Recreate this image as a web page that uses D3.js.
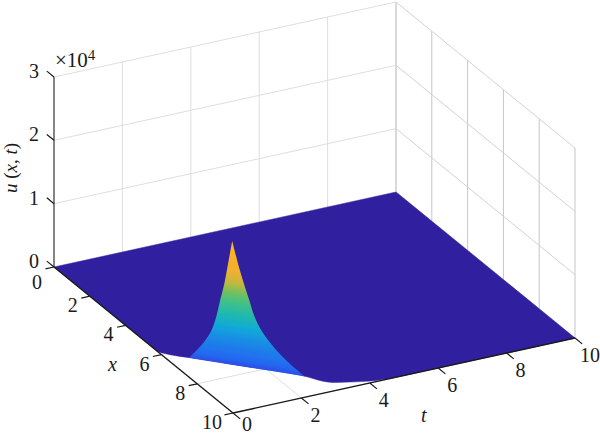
<!DOCTYPE html>
<html>
<head>
<meta charset="utf-8">
<script src="https://cdn.jsdelivr.net/npm/d3@7"></script>
<style>
  html, body { margin: 0; padding: 0; background: #fff; }
  text { font-family: "Liberation Serif", serif; fill: #1a1a1a; }
</style>
</head>
<body>
<svg id="chart" width="600" height="435"></svg>
<script>
const xTicks = [0, 2, 4, 6, 8, 10];
const tTicks = [0, 2, 4, 6, 8, 10];
const uTicks = [0, 1, 2, 3];

// front edge of the surface, the part of the floor in front of it is empty
const edgeT = [0, 0.19, 0.6, 1.5, 2.62, 3.05, 3.57, 4.06, 4.6];
const edgeX = [5.8, 6.1, 6.54, 7.53, 8.76, 9.44, 9.71, 9.9, 10];

// spike outline, t on the front edge and u in thousands
const spikeLeftT = [0.557, 0.686, 0.835, 0.965, 1.058, 1.132, 1.206, 1.262, 1.354];
const spikeLeftU = [0, 1.25, 2.9, 4.8, 7.12, 9.9, 12.5, 15.1, 19.5];
const spikeRightT = [1.354, 1.484, 1.577, 1.67, 1.763, 1.911, 2.134, 2.486, 2.69];
const spikeRightU = [19.5, 15.4, 12.9, 10.6, 8.2, 5.9, 3.7, 1.15, 0];

const colorStops = ['#2a50e8', '#2468f0', '#1a8ae6', '#10a8d8', '#1fb8b0', '#3fc08a', '#70c060', '#c0b840', '#f0b030', '#fdb020', '#f8c030'];
const colorOffsets = [0, 0.05, 0.2, 0.3, 0.4, 0.5, 0.58, 0.66, 0.75, 0.9, 1];
const surfaceColor = '#30209f';

const svg = d3.select('#chart');

const xPx = d3.scaleLinear().domain([0, 10]).range([0, 179]);
const xPy = d3.scaleLinear().domain([0, 10]).range([0, 146]);
const tPx = d3.scaleLinear().domain([0, 10]).range([0, 342]);
const tPy = d3.scaleLinear().domain([0, 10]).range([0, -75]);
const uPy = d3.scaleLinear().domain([0, 30]).range([0, -190]);
const edgeAt = d3.scaleLinear().domain(edgeT).range(edgeX);

const originX = 54, originY = 267;
const project = (x, t, u = 0) => [originX + xPx(x) + tPx(t), originY + xPy(x) + tPy(t) + uPy(u)];

const line = d3.line();
const smooth = d3.line().curve(d3.curveCatmullRom.alpha(0.5));

// grid
const grid = svg.append('g').attr('fill', 'none').attr('stroke-width', 1);
function gridLine(points, color) {
  grid.append('path').attr('d', line(points.map(p => project(...p)))).attr('stroke', color);
}
const wallColor = '#dedede';
const sideColor = '#c6c6c6';
tTicks.slice(1).forEach(t => {
  gridLine([[0, t, 0], [0, t, 30]], t === 10 ? '#b4b4b4' : wallColor);
  gridLine([[0, t, 0], [10, t, 0]], wallColor);
});
xTicks.slice(1).forEach(x => {
  gridLine([[x, 10, 0], [x, 10, 30]], sideColor);
  gridLine([[x, 0, 0], [x, 10, 0]], wallColor);
});
uTicks.slice(1).forEach(u => {
  gridLine([[0, 0, u * 10], [0, 10, u * 10]], wallColor);
  gridLine([[0, 10, u * 10], [10, 10, u * 10]], '#d2d2d2');
});

// flat surface
const edgePts = edgeT.map((t, i) => project(edgeX[i], t));
svg.append('path')
  .attr('d', line([project(0, 0), edgePts[0]]) + smooth(edgePts).replace('M', 'L')
    + line([project(10, 10), project(0, 10)]).replace('M', 'L') + 'Z')
  .attr('fill', surfaceColor)
  .attr('stroke', surfaceColor)
  .attr('stroke-width', 0.5);

// spike, colour runs along the height and leans with the front edge
const leftPts = spikeLeftT.map((t, i) => project(edgeAt(t), t, spikeLeftU[i]));
const rightPts = spikeRightT.map((t, i) => project(edgeAt(t), t, spikeRightU[i]));
const defs = svg.append('defs');
const base = project(edgeAt(1.354), 1.354);
const tip = leftPts[leftPts.length - 1];
const edgeA = project(edgeAt(0.6), 0.6);
const edgeB = project(edgeAt(2.62), 2.62);
const dx = edgeB[0] - edgeA[0], dy = edgeB[1] - edgeA[1];
const nLen = Math.hypot(dx, dy);
const nx = dy / nLen, ny = -dx / nLen;
const reach = (tip[0] - base[0]) * nx + (tip[1] - base[1]) * ny;
const grad = defs.append('linearGradient')
  .attr('id', 'spikeFill')
  .attr('gradientUnits', 'userSpaceOnUse')
  .attr('x1', base[0]).attr('y1', base[1])
  .attr('x2', base[0] + nx * reach).attr('y2', base[1] + ny * reach);
grad.selectAll('stop').data(colorStops).join('stop')
  .attr('offset', (d, i) => colorOffsets[i])
  .attr('stop-color', d => d);
defs.append('filter').attr('id', 'soft')
  .append('feGaussianBlur').attr('stdDeviation', 0.5);

svg.append('path')
  .attr('d', smooth(leftPts) + smooth(rightPts).replace('M', 'L') + 'Z')
  .attr('fill', 'url(#spikeFill)')
  .attr('filter', 'url(#soft)');

// axes
const axes = svg.append('g').attr('fill', 'none').attr('stroke', '#1a1a1a');
axes.append('path').attr('stroke-width', 1.4).attr('d', line([project(0, 0), project(10, 0)]));
axes.append('path').attr('stroke-width', 1.4).attr('d', line([project(10, 0), project(10, 10)]));
axes.append('path').attr('stroke-width', 1.2).attr('stroke', '#333').attr('d', line([project(0, 0), project(0, 0, 30)]));

axes.selectAll('.x-tick').data(xTicks).join('path').attr('class', 'x-tick')
  .attr('stroke-width', 1.2)
  .attr('d', d => line([project(d, 0), project(d, -0.25)]));
axes.selectAll('.t-tick').data(tTicks).join('path').attr('class', 't-tick')
  .attr('stroke-width', 1.2)
  .attr('d', d => line([project(10, d), project(10.4, d)]));
axes.selectAll('.u-tick').data(uTicks).join('path').attr('class', 'u-tick')
  .attr('stroke-width', 1.2)
  .attr('d', d => line([project(0, 0, d * 10), project(-0.4, 0, d * 10)]));

// tick labels
const labels = svg.append('g').attr('font-size', 20).attr('text-anchor', 'middle');
labels.selectAll('.x-label').data(xTicks).join('text').attr('class', 'x-label')
  .attr('x', d => project(d, 0)[0] - (d === 10 ? 21 : 17))
  .attr('y', d => project(d, 0)[1] + (d === 0 ? 22 : 16))
  .text(d => d);
labels.selectAll('.t-label').data(tTicks).join('text').attr('class', 't-label')
  .attr('x', d => project(10, d)[0] + (d === 10 ? 15 : 14))
  .attr('y', d => project(10, d)[1] + (d === 0 ? 17.5 : 24))
  .text(d => d);
labels.selectAll('.u-label').data(uTicks).join('text').attr('class', 'u-label')
  .attr('x', d => project(0, 0, d * 10)[0] - 20)
  .attr('y', d => project(0, 0, d * 10)[1] + 1)
  .text(d => d);

// titles
svg.append('text').attr('x', 108).attr('y', 371).attr('font-size', 20).attr('font-style', 'italic').text('x');
svg.append('text').attr('x', 421).attr('y', 422).attr('font-size', 20).attr('font-style', 'italic').text('t');
const yTitle = svg.append('text')
  .attr('transform', 'translate(17,193) rotate(-90)')
  .attr('font-size', 19);
yTitle.append('tspan').attr('font-style', 'italic').text('u');
yTitle.append('tspan').text(' (');
yTitle.append('tspan').attr('font-style', 'italic').text('x');
yTitle.append('tspan').text(', ');
yTitle.append('tspan').attr('font-style', 'italic').text('t');
yTitle.append('tspan').text(')');

const mult = svg.append('text').attr('x', 55).attr('y', 67).attr('font-size', 21);
mult.append('tspan').text('×10');
mult.append('tspan').attr('font-size', 15).attr('dy', -7).text('4');
</script>
</body>
</html>
